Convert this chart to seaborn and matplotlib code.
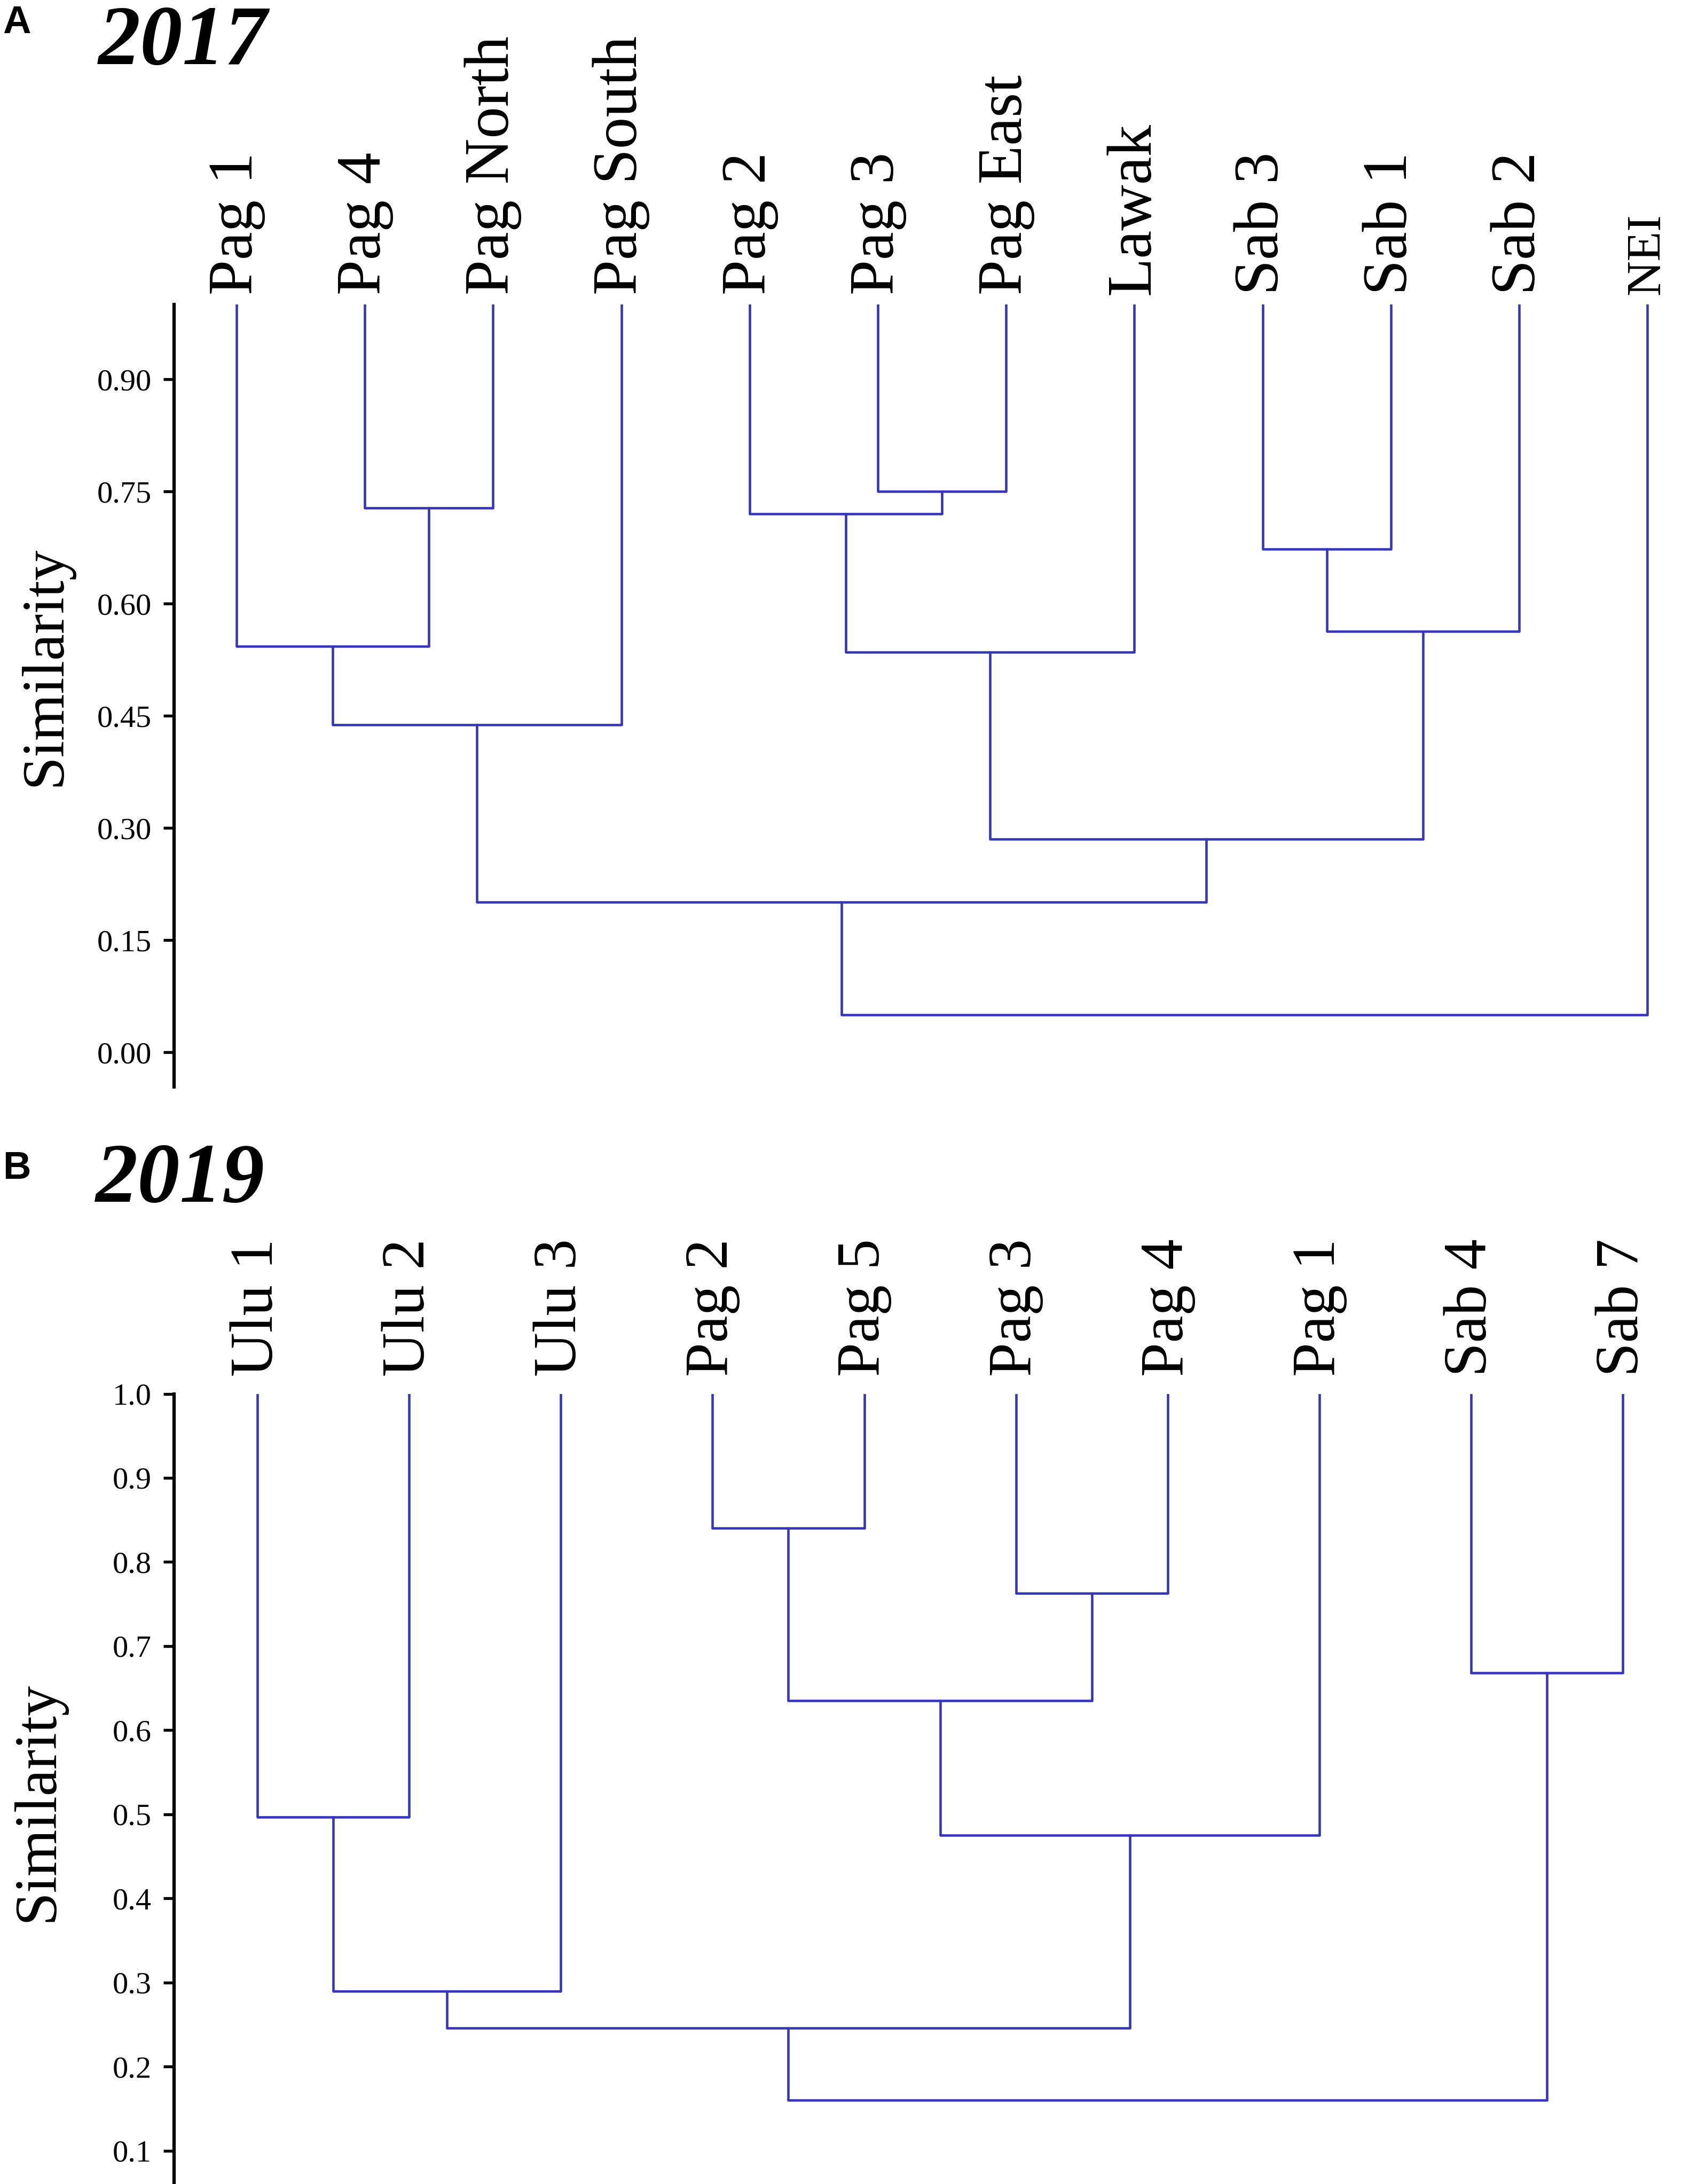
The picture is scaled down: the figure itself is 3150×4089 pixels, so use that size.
import numpy as np
import pandas as pd
import matplotlib
matplotlib.use("Agg")
import matplotlib.pyplot as plt
import seaborn as sns

# ---------------- data ----------------
leaves_2017 = ["Pag 1", "Pag 4", "Pag North", "Pag South", "Pag 2", "Pag 3",
               "Pag East", "Lawak", "Sab 3", "Sab 1", "Sab 2", "NEI"]
# merges: (left child, right child, similarity); child index < n is a leaf,
# otherwise n + index of an earlier merge
merges_2017 = [(1, 2, 0.728), (0, 12, 0.543), (13, 3, 0.438), (5, 6, 0.750),
               (4, 15, 0.720), (16, 7, 0.535), (8, 9, 0.673), (18, 10, 0.563),
               (17, 19, 0.285), (14, 20, 0.201), (21, 11, 0.050)]
yticks_2017 = [0.00, 0.15, 0.30, 0.45, 0.60, 0.75, 0.90]
yticklabels_2017 = ["0.00", "0.15", "0.30", "0.45", "0.60", "0.75", "0.90"]

leaves_2019 = ["Ulu 1", "Ulu 2", "Ulu 3", "Pag 2", "Pag 5", "Pag 3",
               "Pag 4", "Pag 1", "Sab 4", "Sab 7"]
merges_2019 = [(0, 1, 0.497), (10, 2, 0.290), (3, 4, 0.840), (5, 6, 0.763),
               (12, 13, 0.635), (14, 7, 0.475), (11, 15, 0.246), (8, 9, 0.668),
               (16, 17, 0.160)]
yticks_2019 = [0.1, 0.2, 0.3, 0.4, 0.5, 0.6, 0.7, 0.8, 0.9, 1.0]
yticklabels_2019 = ["0.1", "0.2", "0.3", "0.4", "0.5", "0.6", "0.7", "0.8", "0.9", "1.0"]

LEAF_SIM = 1.0

# ---------------- style ----------------
sns.set_style("white")
plt.rcParams["font.family"] = ["Liberation Serif", "DejaVu Serif"]
plt.rcParams["text.color"] = "black"
plt.rcParams["axes.labelcolor"] = "black"
plt.rcParams["ytick.color"] = "black"
plt.rcParams["xtick.color"] = "black"
LINE_COLOR = "#3636b8"

W, H = 3150, 4089
DPI = 300
fig = plt.figure(figsize=(W / DPI, H / DPI), dpi=DPI)


def dendro_segments(leaves, merges):
    n = len(leaves)
    pos = {i: float(i) for i in range(n)}
    hgt = {i: LEAF_SIM for i in range(n)}
    rows = []
    for k, (a, b, s) in enumerate(merges):
        pts = [(pos[a], hgt[a]), (pos[a], s), (pos[b], s), (pos[b], hgt[b])]
        for j, (x, y) in enumerate(pts):
            rows.append({"seg": k, "order": j, "x": x, "y": y})
        pos[n + k] = (pos[a] + pos[b]) / 2.0
        hgt[n + k] = s
    return pd.DataFrame(rows)


def draw_panel(rect, leaves, merges, xlim, ylim, yticks, yticklabels,
               leaf_size, leaf_gap, small_leaf=None):
    ax = fig.add_axes(rect)
    df = dendro_segments(leaves, merges)
    sns.lineplot(data=df, x="x", y="y", units="seg", estimator=None, sort=False,
                 color=LINE_COLOR, linewidth=1.1, ax=ax, legend=False)
    ax.set_xlim(*xlim)
    ax.set_ylim(*ylim)
    ax.set_xticks([])
    ax.set_yticks(yticks)
    ax.set_yticklabels(yticklabels)
    ax.set_xlabel("")
    ax.set_ylabel("")
    for s in ["top", "right", "bottom"]:
        ax.spines[s].set_visible(False)
    ax.spines["left"].set_linewidth(1.5)
    ax.spines["left"].set_color("black")
    ax.tick_params(axis="y", direction="out", length=4.8, width=1.3, pad=5.3,
                   labelsize=14, colors="black", labelcolor="black", left=True)
    ax.patch.set_alpha(0)
    for i, name in enumerate(leaves):
        size = leaf_size
        if small_leaf and name in small_leaf:
            size = small_leaf[name]
        ax.annotate(name, xy=(i, LEAF_SIM), xytext=(0, leaf_gap),
                    textcoords="offset points", rotation=90,
                    ha="center", va="bottom", fontsize=size, color="black",
                    annotation_clip=False)
    return ax


# Panel A
axA_left = 326 / W
a_top_px, a_bot_px = 570, 2035
draw_panel([axA_left, 1 - a_bot_px / H, 1 - axA_left, (a_bot_px - a_top_px) / H],
           leaves_2017, merges_2017,
           xlim=(-0.487, 11.27), ylim=(-0.0462, 1.0),
           yticks=yticks_2017, yticklabels=yticklabels_2017,
           leaf_size=28.5, leaf_gap=4.3, small_leaf={"NEI": 22})

# Panel B
b_top_px = 2609.5
draw_panel([axA_left, 0.0, 1 - axA_left, 1 - b_top_px / H],
           leaves_2019, merges_2019,
           xlim=(-0.549, 9.39), ylim=(0.0606, 1.0),
           yticks=yticks_2019, yticklabels=yticklabels_2019,
           leaf_size=27.5, leaf_gap=7.7)

# Titles / labels
fig.text(5 / W, 1 - 62 / H, "A", ha="left", va="baseline", fontsize=17.5,
         fontweight="bold", color="black", family=["Liberation Sans", "DejaVu Sans"])
fig.text(184 / W, 1 - 120 / H, "2017", ha="left", va="baseline", fontsize=38,
         fontweight="bold", fontstyle="italic", color="black")
fig.text(5 / W, 1 - 2207 / H, "B", ha="left", va="baseline", fontsize=17.5,
         fontweight="bold", color="black", family=["Liberation Sans", "DejaVu Sans"])
fig.text(179 / W, 1 - 2250 / H, "2019", ha="left", va="baseline", fontsize=38,
         fontweight="bold", fontstyle="italic", color="black")

fig.text(85 / W, 1 - 1247 / H, "Similarity", rotation=90, ha="center",
         va="center", fontsize=27, color="black")
fig.text(72 / W, 1 - 3373 / H, "Similarity", rotation=90, ha="center",
         va="center", fontsize=27, color="black")

fig.savefig("out.png", dpi=DPI, facecolor="white")
